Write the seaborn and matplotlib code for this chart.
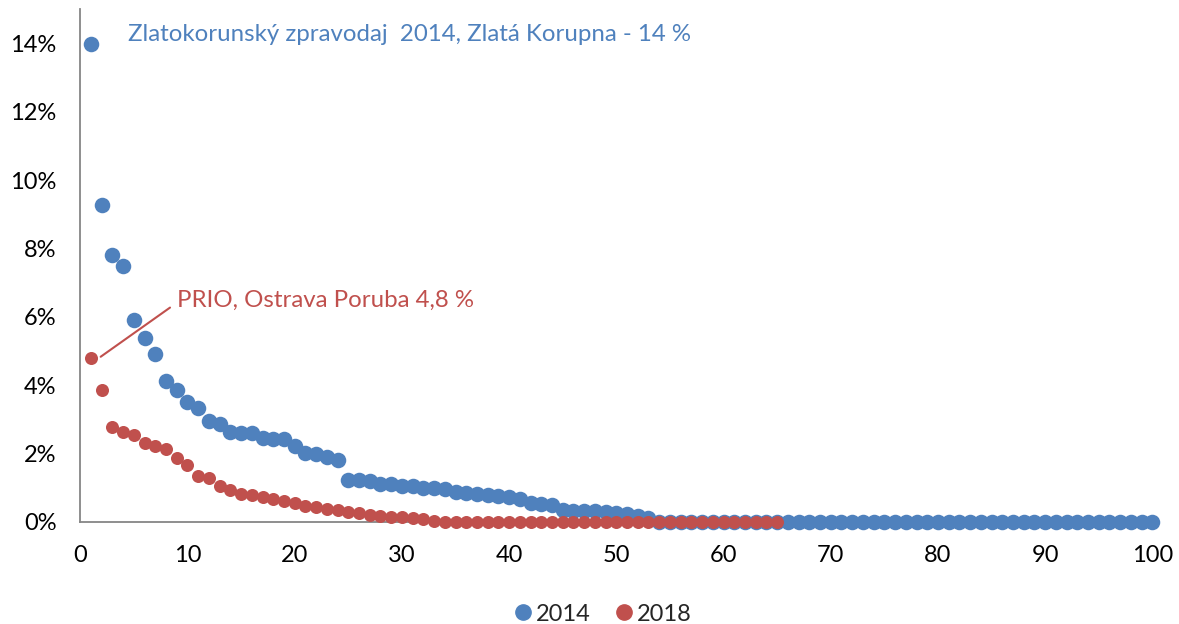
import matplotlib
matplotlib.use("Agg")
import matplotlib.pyplot as plt
import numpy as np
import pandas as pd
import seaborn as sns
from matplotlib.lines import Line2D
from matplotlib.ticker import FuncFormatter

# values in percent
share_2014 = [
    14.0, 9.28, 7.81, 7.49, 5.91, 5.39, 4.90, 4.12, 3.86, 3.51,
    3.34, 2.96, 2.85, 2.62, 2.59, 2.59, 2.44, 2.43, 2.43, 2.23,
    2.00, 1.98, 1.89, 1.81, 1.22, 1.21, 1.18, 1.10, 1.10, 1.05,
    1.05, 0.98, 0.98, 0.96, 0.88, 0.85, 0.80, 0.78, 0.75, 0.73,
    0.68, 0.54, 0.51, 0.49, 0.34, 0.31, 0.31, 0.31, 0.29, 0.27,
    0.24, 0.18, 0.10, 0.0, 0.0, 0.0, 0.0, 0.0, 0.0, 0.0,
    0.0, 0.0, 0.0, 0.0, 0.0, 0.0, 0.0, 0.0, 0.0, 0.0,
    0.0, 0.0, 0.0, 0.0, 0.0, 0.0, 0.0, 0.0, 0.0, 0.0,
    0.0, 0.0, 0.0, 0.0, 0.0, 0.0, 0.0, 0.0, 0.0, 0.0,
    0.0, 0.0, 0.0, 0.0, 0.0, 0.0, 0.0, 0.0, 0.0, 0.0,
]
share_2018 = [
    4.78, 3.86, 2.78, 2.64, 2.53, 2.31, 2.23, 2.12, 1.87, 1.66,
    1.35, 1.29, 1.05, 0.93, 0.81, 0.78, 0.72, 0.66, 0.61, 0.54,
    0.47, 0.43, 0.37, 0.34, 0.28, 0.26, 0.20, 0.17, 0.15, 0.13,
    0.10, 0.08, 0.03, 0.0, 0.0, 0.0, 0.0, 0.0, 0.0, 0.0,
    0.0, 0.0, 0.0, 0.0, 0.0, 0.0, 0.0, 0.0, 0.0, 0.0,
    0.0, 0.0, 0.0, 0.0, 0.0, 0.0, 0.0, 0.0, 0.0, 0.0,
    0.0, 0.0, 0.0, 0.0, 0.0,
]
y_ticks = [0, 2, 4, 6, 8, 10, 12, 14]
x_ticks = [0, 10, 20, 30, 40, 50, 60, 70, 80, 90, 100]

label_2014 = "Zlatokorunský zpravodaj  2014, Zlatá Korupna - 14 %"
label_2018 = "PRIO, Ostrava Poruba 4,8 %"

blue = "#4F81BD"
red = "#C0504D"
axis_grey = "#868686"

df14 = pd.DataFrame({"rank": np.arange(1, len(share_2014) + 1), "share": share_2014})
df18 = pd.DataFrame({"rank": np.arange(1, len(share_2018) + 1), "share": share_2018})

sns.set_style("white")
plt.rcParams["font.family"] = ["Lato", "DejaVu Sans"]

fig = plt.figure(figsize=(11.79, 6.24), dpi=100)
ax = fig.add_axes([0.0681, 0.1639, 0.9093, 0.821])

sns.scatterplot(data=df14, x="rank", y="share", color=blue, s=125,
                linewidth=0, ax=ax, zorder=3, clip_on=False)
sns.scatterplot(data=df18, x="rank", y="share", color=red, s=88,
                linewidth=0, ax=ax, zorder=4, clip_on=False)

ax.set_xlim(0, 100)
ax.set_ylim(0, 15)
ax.set_xticks(x_ticks)
ax.set_yticks(y_ticks)
ax.yaxis.set_major_formatter(FuncFormatter(lambda v, p: f"{v:.0f}%"))
ax.set_xlabel("")
ax.set_ylabel("")

for side in ["top", "right"]:
    ax.spines[side].set_visible(False)
for side in ["left", "bottom"]:
    ax.spines[side].set_color(axis_grey)
    ax.spines[side].set_linewidth(1.3)
ax.tick_params(axis="both", which="major", direction="out", length=5,
               width=1.3, color=axis_grey, labelsize=17, labelcolor="black")
ax.tick_params(axis="y", pad=12)
ax.tick_params(axis="x", pad=12)

# annotations
ax.text(4.45, 14.28, label_2014, color=blue, fontsize=17.3, va="center", ha="left")
ax.text(9.0, 6.49, label_2018, color=red, fontsize=17.3, va="center", ha="left")
ax.plot([1.9, 8.37], [4.83, 6.27], color=red, linewidth=1.5, zorder=5)

handles = [
    Line2D([], [], marker="o", linestyle="", color=blue, markersize=11, label="2014"),
    Line2D([], [], marker="o", linestyle="", color=red, markersize=11, label="2018"),
]
fig.legend(handles=handles, loc="center", bbox_to_anchor=(0.51, 0.016),
           ncol=2, frameon=False, fontsize=17, handletextpad=0.05,
           columnspacing=0.9, handlelength=1.0)

fig.savefig("out.png", dpi=100)
